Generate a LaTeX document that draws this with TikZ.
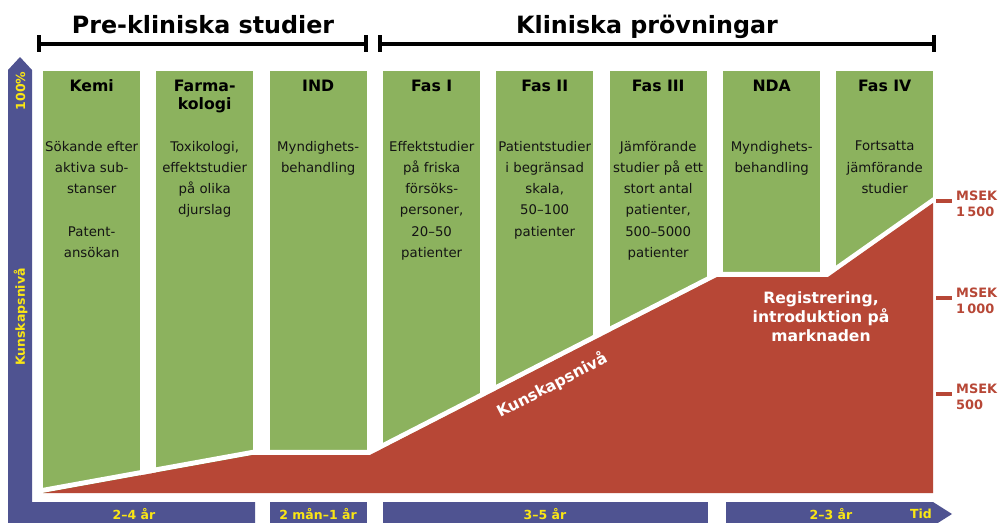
\documentclass[tikz,border=0pt]{standalone}
\usepackage{fontspec}
\setmainfont{DejaVu Sans}
\definecolor{cgreen}{RGB}{140,178,94}
\definecolor{cred}{RGB}{183,71,54}
\definecolor{cblue}{RGB}{79,83,145}
\definecolor{cyellow}{RGB}{250,230,20}
\definecolor{ctext}{RGB}{20,20,20}
\begin{document}
\begin{tikzpicture}[x=1pt,y=-1pt,
  col/.style={fill=cgreen, draw=none, minimum width=97pt, minimum height=422pt, inner sep=0pt, anchor=north west},
  head/.style={font=\fontsize{15.7}{18}\selectfont\bfseries, align=center, anchor=north, inner sep=0pt, text=black},
  body/.style={font=\fontsize{13.3}{21.2}\selectfont, align=center, anchor=north, inner sep=0pt, text=ctext},
  title/.style={font=\fontsize{23.8}{28}\selectfont\bfseries, anchor=base, inner sep=0pt, text=black},
  brk/.style={line width=4pt, draw=black},
  axislbl/.style={font=\fontsize{12.5}{14}\selectfont\bfseries, text=cyellow, inner sep=0pt},
  msek/.style={font=\fontsize{12.9}{16.5}\selectfont\bfseries, text=cred, align=left, anchor=north west, inner sep=0pt},
  mtick/.style={draw=cred, line width=3.3pt},
  bar/.style={fill=cblue, draw=none},
  onred/.style={font=\fontsize{15.6}{19}\selectfont\bfseries, text=white, inner sep=0pt}
]
\useasboundingbox (0,0) rectangle (998,522);
\clip (0,0) rectangle (998,522);
\fill[white] (0,0) rectangle (998,522);

% titles and brackets
\node[title] (tpre) at (203,33.3) {Pre-kliniska studier};
\node[title] (tkli) at (647,33.3) {Kliniska prövningar};
\coordinate (b1l) at (38.7,43.7);
\coordinate (b1r) at (366,43.7);
\coordinate (b2l) at (380.3,43.7);
\coordinate (b2r) at (934,43.7);
\draw[brk] (b1l) -- (b1r);
\draw[brk] (b2l) -- (b2r);
\foreach \c in {b1l,b1r,b2l,b2r}{
  \draw[brk] (\c) ++(0,-8.7) -- ++(0,17.4);
}

% columns
\node[col] (kemi) at (43,71) {};
\node[col] (farm) at (156,71) {};
\node[col] (ind)  at (269.5,71) {};
\node[col] (fas1) at (383,71) {};
\node[col] (fas2) at (496,71) {};
\node[col] (fas3) at (609.5,71) {};
\node[col] (nda)  at (723,71) {};
\node[col] (fas4) at (836,71) {};

% headings
\node[head] (hkemi) at ([yshift=-8.5pt]kemi.north) {Kemi};
\node[head] (hfarm) at ([yshift=-8.5pt]farm.north) {Farma-\\kologi};
\node[head] (hind)  at ([yshift=-8.5pt]ind.north)  {IND};
\node[head] (hfas1) at ([yshift=-8.5pt]fas1.north) {Fas I};
\node[head] (hfas2) at ([yshift=-8.5pt]fas2.north) {Fas II};
\node[head] (hfas3) at ([yshift=-8.5pt]fas3.north) {Fas III};
\node[head] (hnda)  at ([yshift=-8.5pt]nda.north)  {NDA};
\node[head] (hfas4) at ([yshift=-8.5pt]fas4.north) {Fas IV};

% body texts
\node[body] (tkemi) at ([yshift=-70pt]kemi.north) {Sökande efter\\aktiva sub-\\stanser\\[21.6pt]Patent-\\ansökan};
\node[body] (tfarm) at ([yshift=-70pt]farm.north) {Toxikologi,\\effektstudier\\på olika\\djurslag};
\node[body] (tind)  at ([yshift=-70pt]ind.north)  {Myndighets-\\behandling};
\node[body] (tfas1) at ([yshift=-70pt]fas1.north) {Effektstudier\\på friska\\försöks-\\personer,\\20–50\\patienter};
\node[body] (tfas2) at ([yshift=-70pt]fas2.north) {Patientstudier\\i begränsad\\skala,\\50–100\\patienter};
\node[body] (tfas3) at ([yshift=-70pt]fas3.north) {Jämförande\\studier på ett\\stort antal\\patienter,\\500–5000\\patienter};
\node[body] (tnda)  at ([yshift=-70pt]nda.north)  {Myndighets-\\behandling};
\node[body] (tfas4) at ([yshift=-70pt]fas4.north) {Fortsatta\\jämförande\\studier};

% white gap and red knowledge area
\draw[white, line width=5pt, line join=miter]
  (36,491.6) -- (253,452.3) -- (370,452.3) -- (717,274.3) -- (828,274.3) -- (933,200.3) -- (945,191.9);
\fill[cred] (43,493) -- (253,455) -- (370,455) -- (717,277) -- (828,277) -- (933,203) -- (933,493) -- cycle;
\node[onred, rotate=27.5] (kslope) at (552,385) {Kunskapsnivå};
\node[onred, align=center, anchor=north] (reg) at (821,291) {Registrering,\\introduktion på\\marknaden};

% MSEK scale
\coordinate (m1) at (936,201);
\coordinate (m2) at (936,298);
\coordinate (m3) at (936,394);
\draw[mtick] (m1) -- ++(16,0);
\draw[mtick] (m2) -- ++(16,0);
\draw[mtick] (m3) -- ++(16,0);
\node[msek] (l1) at (956,190.3) {MSEK\\1\,500};
\node[msek] (l2) at (956,287.3) {MSEK\\1\,000};
\node[msek] (l3) at (956,383.3) {MSEK\\500};

% axes
\fill[bar] (8,526) -- (8,70) -- (20,57) -- (32,70) -- (32,502) -- (255,502) -- (255,526) -- cycle;
\fill[bar] (270,502) rectangle (367,526);
\fill[bar] (383,502) rectangle (708,526);
\fill[bar] (726,502) -- (933,502) -- (952,514) -- (933,526) -- (726,526) -- cycle;
\node[axislbl, rotate=90] (p100) at (20.5,91) {100\%};
\node[axislbl, rotate=90] (kax) at (20.5,317) {Kunskapsnivå};
\node[axislbl] (d1) at (134,514) {2–4 år};
\node[axislbl] (d2) at (318,514) {2 mån–1 år};
\node[axislbl] (d3) at (545,514) {3–5 år};
\node[axislbl] (d4) at (831,514) {2–3 år};
\node[axislbl] (d5) at (921,514) {Tid};
\end{tikzpicture}
\end{document}
